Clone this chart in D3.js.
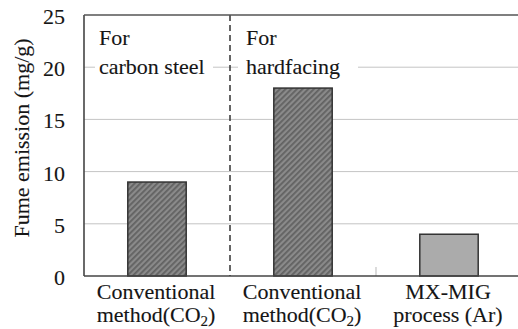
<!DOCTYPE html>
<html>
<head>
<meta charset="utf-8">
<script src="https://cdn.jsdelivr.net/npm/d3@7"></script>
<style>
  html, body { margin: 0; padding: 0; background: #fff; }
  svg { display: block; }
  svg text { stroke: #151515; stroke-width: 0.12px; }
</style>
</head>
<body>
<svg id="chart" width="518" height="329"></svg>
<script>
// Fume emission per welding method
const categories = ["conv-carbon", "conv-hardfacing", "mxmig"];
const labelLine1 = ["Conventional", "Conventional", "MX-MIG"];
const labelLine2 = [["method(CO", "2", ")"], ["method(CO", "2", ")"], ["process (Ar)", "", ""]];
const values = [9, 18, 4];
const hatched = [true, true, false];
const yTicks = [0, 5, 10, 15, 20, 25];
const groupNotes = [["For", "carbon steel"], ["For", "hardfacing"]];

const svg = d3.select("#chart")
  .attr("font-family", "'Liberation Serif', 'Times New Roman', Times, serif");
const fontSize = 22;
const textColor = "#151515";

const plot = { left: 84, right: 522, top: 15, bottom: 276 };

const x = d3.scaleBand()
  .domain(categories)
  .range([plot.left, plot.right])
  .paddingInner(0.6)
  .paddingOuter(0.3);

const y = d3.scaleLinear()
  .domain([0, 25])
  .range([plot.bottom, plot.top]);

// diagonal hatch fill for the CO2 bars
const defs = svg.append("defs");
const pat = defs.append("pattern")
  .attr("id", "hatch")
  .attr("patternUnits", "userSpaceOnUse")
  .attr("width", 4).attr("height", 4)
  .attr("patternTransform", "rotate(45)");
pat.append("rect").attr("width", 4).attr("height", 4).attr("fill", "#8a8a8a");
pat.append("rect").attr("width", 1.8).attr("height", 4).attr("fill", "#626262");

// horizontal gridlines
svg.append("g")
  .selectAll("line")
  .data(yTicks.filter(d => d > 0 && d < 25))
  .join("line")
  .attr("x1", plot.left).attr("x2", 518)
  .attr("y1", d => y(d)).attr("y2", d => y(d))
  .attr("stroke", "#c4c4c4").attr("stroke-width", 1);

// small tick between the 2nd and 3rd category
const step = x.step();
svg.append("line")
  .attr("x1", x(categories[2]) - step * 0.3).attr("x2", x(categories[2]) - step * 0.3)
  .attr("y1", plot.bottom).attr("y2", plot.bottom - 9)
  .attr("stroke", "#c4c4c4").attr("stroke-width", 1.2);

// group annotation boxes (white backgrounds break the 20 gridline)
const noteBoxes = [[95, 213], [238, 358]];
const noteX = [99, 246];
groupNotes.forEach((lines, i) => {
  svg.append("rect")
    .attr("x", noteBoxes[i][0]).attr("y", 24)
    .attr("width", noteBoxes[i][1] - noteBoxes[i][0]).attr("height", 56)
    .attr("fill", "#fff");
  lines.forEach((t, j) => {
    svg.append("text")
      .attr("x", noteX[i]).attr("y", 45 + j * 29)
      .attr("font-size", fontSize)
      .attr("fill", textColor)
      .text(t);
  });
});

// bars
svg.append("g")
  .selectAll("rect")
  .data(values)
  .join("rect")
  .attr("x", (d, i) => x(categories[i]))
  .attr("y", d => y(d))
  .attr("width", x.bandwidth())
  .attr("height", d => y(0) - y(d))
  .attr("fill", (d, i) => hatched[i] ? "url(#hatch)" : "#ababab")
  .attr("stroke", "#333").attr("stroke-width", 1.5);

// divider between the two application groups
const divX = x(categories[1]) - step * 0.3;
svg.append("line")
  .attr("x1", divX).attr("x2", divX)
  .attr("y1", plot.top).attr("y2", plot.bottom)
  .attr("stroke", "#333").attr("stroke-width", 1.5)
  .attr("stroke-dasharray", "6,4");

// frame: left axis, bottom axis, top border
const axisColor = "#444";
svg.append("line").attr("x1", plot.left).attr("x2", plot.left)
  .attr("y1", plot.top).attr("y2", plot.bottom)
  .attr("stroke", axisColor).attr("stroke-width", 1.6);
svg.append("line").attr("x1", plot.left).attr("x2", 518)
  .attr("y1", plot.bottom).attr("y2", plot.bottom)
  .attr("stroke", axisColor).attr("stroke-width", 1.6);
svg.append("line").attr("x1", plot.left).attr("x2", 518)
  .attr("y1", plot.top).attr("y2", plot.top)
  .attr("stroke", "#555").attr("stroke-width", 1.6);

// y tick labels
svg.append("g")
  .selectAll("text")
  .data(yTicks)
  .join("text")
  .attr("x", 65)
  .attr("y", d => y(d) + 9)
  .attr("text-anchor", "end")
  .attr("font-size", fontSize)
  .attr("fill", textColor)
  .text(d => d);

// x category labels
categories.forEach((c, i) => {
  const cx = x(c) + x.bandwidth() / 2 - 1;
  svg.append("text")
    .attr("x", cx).attr("y", 298.5)
    .attr("text-anchor", "middle")
    .attr("font-size", fontSize)
    .attr("fill", textColor)
    .text(labelLine1[i]);
  const t2 = svg.append("text")
    .attr("x", cx).attr("y", 322)
    .attr("text-anchor", "middle")
    .attr("font-size", fontSize)
    .attr("fill", textColor);
  const parts = labelLine2[i];
  t2.append("tspan").text(parts[0]);
  if (parts[1]) {
    t2.append("tspan").attr("font-size", 15).attr("dy", 4).text(parts[1]);
    t2.append("tspan").attr("dy", -4).text(parts[2]);
  }
});

// y axis title
svg.append("text")
  .attr("transform", "translate(29,138) rotate(-90)")
  .attr("text-anchor", "middle")
  .attr("font-size", fontSize)
  .attr("fill", textColor)
  .text("Fume emission (mg/g)");
</script>
</body>
</html>
